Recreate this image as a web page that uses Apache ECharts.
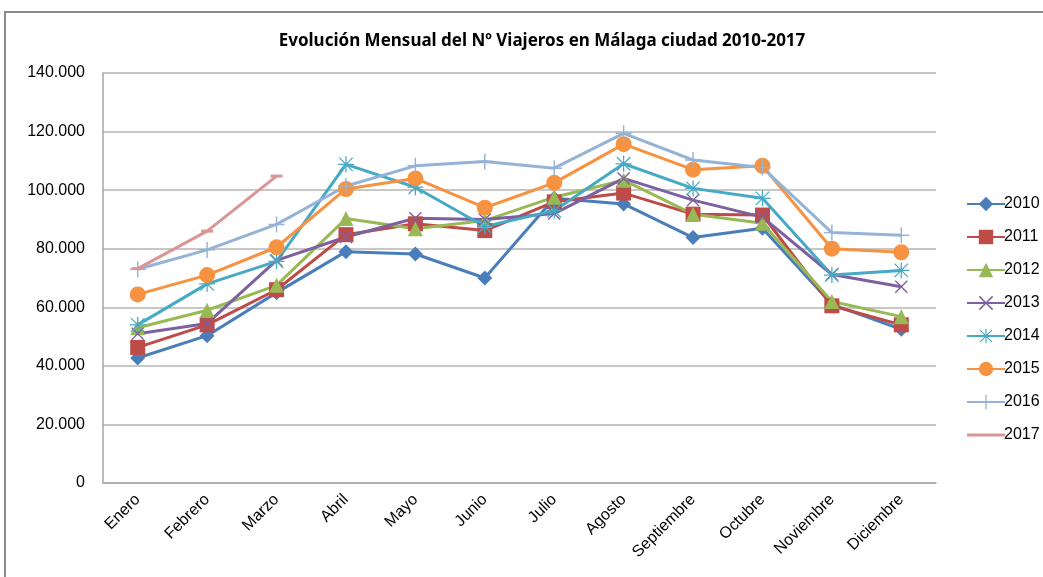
<!DOCTYPE html>
<html>
<head>
<meta charset="utf-8">
<script src="https://cdn.jsdelivr.net/npm/echarts@6/dist/echarts.min.js"></script>
<style>
  html, body { margin: 0; padding: 0; background: #fff; }
  #chart { width: 1043px; height: 577px; }
</style>
</head>
<body>
<div id="chart"></div>
<script>
const months = ['Enero', 'Febrero', 'Marzo', 'Abril', 'Mayo', 'Junio', 'Julio', 'Agosto', 'Septiembre', 'Octubre', 'Noviembre', 'Diciembre']
const yTicks = [0, 20000, 40000, 60000, 80000, 100000, 120000, 140000]

const v2010 = [42700, 50300, 65000, 79000, 78200, 70000, 97200, 95300, 83800, 87000, 61000, 52500]
const v2011 = [46300, 54000, 66000, 84800, 88500, 86200, 96000, 99000, 91800, 91500, 60500, 54000]
const v2012 = [53000, 59000, 67500, 90300, 86800, 89600, 97600, 103400, 91800, 88700, 62000, 56800]
const v2013 = [51000, 54500, 76000, 84000, 90400, 90000, 92000, 104000, 96600, 90800, 71200, 67000]
const v2014 = [54000, 68000, 75700, 108800, 101000, 87600, 93000, 109000, 100600, 97200, 71000, 72600]
const v2015 = [64400, 71000, 80500, 100400, 104000, 94000, 102500, 115700, 107000, 108300, 80000, 78800]
const v2016 = [73000, 79600, 88300, 101400, 108300, 109800, 107500, 119400, 110300, 107700, 85500, 84600]
const v2017 = [73200, 86000, 104800]

const xPath = 'path://M0,1.5L1.5,0L10,8.5L18.5,0L20,1.5L11.5,10L20,18.5L18.5,20L10,11.5L1.5,20L0,18.5L8.5,10Z'
const starPath = 'path://M9.2,0h1.6v20h-1.6z M0,9.2h20v1.6h-20z M1,2.1L2.1,1L19,17.9L17.9,19Z M17.9,1L19,2.1L2.1,19L1,17.9Z'
const plusPath = 'path://M9.1,0h1.8v20h-1.8z M0,9.1h20v1.8h-20z'
const dashPath = 'path://M0,0h20v4h-20z'

function fmt(v) {
  return String(v).replace(/\B(?=(\d{3})+(?!\d))/g, '.')
}

function line(name, data, color, symbol, size) {
  return {
    name: name,
    type: 'line',
    data: data,
    symbol: symbol,
    symbolSize: size,
    showAllSymbol: true,
    lineStyle: { width: 3, color: color },
    itemStyle: { color: color },
    emphasis: { disabled: true },
    animation: false
  }
}

const chart = echarts.init(document.getElementById('chart'))
chart.setOption({
  backgroundColor: '#fff',
  title: {
    text: 'Evolución Mensual del Nº Viajeros en Málaga ciudad 2010-2017',
    left: 537,
    textAlign: 'center',
    top: 28,
    textStyle: { fontFamily: 'Noto Sans', fontSize: 17, fontWeight: 'bold', color: '#000' }
  },
  graphic: [{
    type: 'rect',
    shape: { x: 5, y: 12, width: 1100, height: 620 },
    style: { fill: 'none', stroke: '#8a8a8a', lineWidth: 2 },
    silent: true
  }],
  legend: {
    orient: 'vertical',
    left: 961,
    top: 191,
    itemGap: 17,
    itemWidth: 38,
    itemHeight: 18,
    textStyle: { fontFamily: 'Liberation Sans, Noto Sans', fontSize: 16, color: '#000', padding: [0, 0, 0, -6] },
    data: ['2010', '2011', '2012', '2013', '2014', '2015', '2016',
      { name: '2017', icon: 'path://M0,0h38v3h-38z' }]
  },
  grid: { left: 103, right: 107, top: 73, bottom: 94 },
  xAxis: {
    type: 'category',
    data: months,
    boundaryGap: true,
    axisLine: { lineStyle: { color: '#a6a6a6', width: 1.5 } },
    axisTick: { show: false },
    axisLabel: {
      rotate: 45,
      interval: 0,
      margin: 14,
      fontFamily: 'Liberation Sans, Noto Sans',
      fontSize: 16,
      color: '#000'
    }
  },
  yAxis: {
    type: 'value',
    min: yTicks[0],
    max: yTicks[yTicks.length - 1],
    interval: yTicks[1] - yTicks[0],
    axisLine: { show: true, lineStyle: { color: '#a6a6a6', width: 1.5 } },
    axisTick: { show: false },
    splitLine: { lineStyle: { color: '#b4b4b4', width: 1.5 } },
    axisLabel: {
      margin: 18,
      fontFamily: 'Liberation Sans, Noto Sans',
      fontSize: 16,
      color: '#000',
      formatter: fmt
    }
  },
  series: [
    line('2010', v2010, '#4A7EBB', 'diamond', 15),
    line('2011', v2011, '#BE4B48', 'rect', 15),
    line('2012', v2012, '#98B954', 'triangle', 15),
    line('2013', v2013, '#7D60A0', xPath, 13),
    line('2014', v2014, '#46AAC5', starPath, 16),
    line('2015', v2015, '#F69240', 'circle', 16),
    line('2016', v2016, '#95B3D7', plusPath, 16),
    line('2017', v2017, '#D99694', dashPath, [12, 3])
  ]
})
</script>
</body>
</html>
